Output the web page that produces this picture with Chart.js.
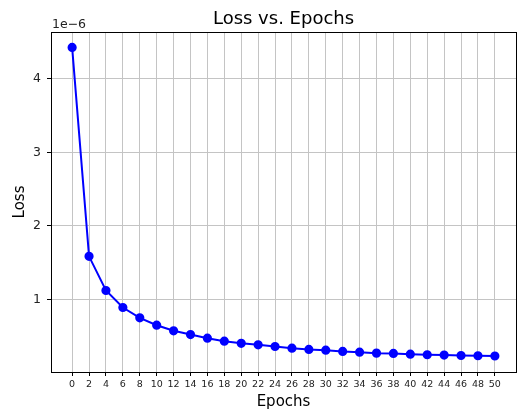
<!DOCTYPE html>
<html>
<head>
<meta charset="utf-8">
<script src="https://cdn.jsdelivr.net/npm/chart.js@4"></script>
<style>
  html, body { margin: 0; padding: 0; background: #fff; }
  #wrap { width: 518px; height: 413px; }
</style>
</head>
<body>
<div id="wrap"><canvas id="lossChart" width="518" height="413"></canvas></div>
<script>
// Epochs and recorded loss (loss in units of 1e-6)
const epochs = [0, 2, 4, 6, 8, 10, 12, 14, 16, 18, 20, 22, 24, 26, 28, 30, 32, 34, 36, 38, 40, 42, 44, 46, 48, 50];
const lossScaled = [4.43, 1.585, 1.12, 0.888, 0.748, 0.647, 0.571, 0.52, 0.47, 0.43, 0.40, 0.38, 0.357, 0.335, 0.317, 0.307, 0.29, 0.28, 0.267, 0.263, 0.253, 0.245, 0.24, 0.235, 0.231, 0.228];
const xTicks = [0, 2, 4, 6, 8, 10, 12, 14, 16, 18, 20, 22, 24, 26, 28, 30, 32, 34, 36, 38, 40, 42, 44, 46, 48, 50];
const yTicks = [1, 2, 3, 4];
const exponent = 1e-6;
const chartTitle = "Loss vs. Epochs";

const FONT = "'DejaVu Sans', sans-serif";

// box around the plot area, title over the plot, "1e-6" offset text
const framePlugin = {
  id: "frame",
  afterDraw(chart) {
    const { ctx, chartArea } = chart;
    ctx.save();
    ctx.strokeStyle = "#000";
    ctx.lineWidth = 1;
    ctx.strokeRect(
      Math.round(chartArea.left) + 0.5,
      Math.round(chartArea.top) + 0.5,
      Math.round(chartArea.right - chartArea.left),
      Math.round(chartArea.bottom - chartArea.top)
    );

    ctx.fillStyle = "#000";
    ctx.font = "18px " + FONT;
    ctx.textAlign = "center";
    ctx.textBaseline = "alphabetic";
    ctx.fillText(chartTitle, (chartArea.left + chartArea.right) / 2, 24);

    ctx.fillStyle = "#222";
    ctx.font = "12.5px " + FONT;
    ctx.textAlign = "left";
    ctx.fillText("1e\u22126", chartArea.left + 1, chartArea.top - 4);
    ctx.restore();
  },
};

const ctx = document.getElementById("lossChart").getContext("2d");
new Chart(ctx, {
  type: "line",
  data: {
    datasets: [
      {
        label: "Loss",
        data: epochs.map((e, i) => ({ x: e, y: lossScaled[i] * exponent })),
        borderColor: "#0000ff",
        backgroundColor: "#0000ff",
        borderWidth: 2,
        pointRadius: 3.6,
        pointHoverRadius: 3.6,
        tension: 0,
      },
    ],
  },
  options: {
    responsive: false,
    animation: false,
    layout: { autoPadding: false, padding: { top: 32, right: 2, bottom: 0, left: 0 } },
    plugins: {
      legend: { display: false },
      tooltip: { enabled: false },
      title: { display: false },
    },
    scales: {
      x: {
        type: "linear",
        min: -2.5,
        max: 52.5,
        afterBuildTicks: (scale) => {
          scale.ticks = xTicks.map((v) => ({ value: v }));
        },
        afterFit: (scale) => {
          scale.height = 41;
          scale.paddingLeft = 0;
          scale.paddingRight = 0;
        },
        ticks: {
          color: "#222",
          font: { family: FONT, size: 9.5 },
          padding: 3,
          maxRotation: 0,
          autoSkip: false,
        },
        grid: {
          color: "#c4c4c4",
          lineWidth: 1,
          tickColor: "#000",
          tickLength: 4,
        },
        border: { color: "#000", width: 1 },
        title: {
          display: true,
          text: "Epochs",
          color: "#000",
          font: { family: FONT, size: 15 },
          padding: { top: 0, bottom: 2 },
        },
      },
      y: {
        type: "linear",
        min: 0.01 * exponent,
        max: 4.64 * exponent,
        afterBuildTicks: (scale) => {
          scale.ticks = yTicks.map((v) => ({ value: v * exponent }));
        },
        afterFit: (scale) => {
          scale.width = 51;
          scale.paddingTop = 0;
          scale.paddingBottom = 0;
        },
        ticks: {
          color: "#222",
          font: { family: FONT, size: 12.5 },
          padding: 6,
          callback: (value) => String(Math.round(value / exponent)),
        },
        grid: {
          color: "#c4c4c4",
          lineWidth: 1,
          tickColor: "#000",
          tickLength: 4,
        },
        border: { color: "#000", width: 1 },
        title: {
          display: true,
          text: "Loss",
          color: "#000",
          font: { family: FONT, size: 15 },
          padding: { top: 11, bottom: 0 },
        },
      },
    },
  },
  plugins: [framePlugin],
});
</script>
</body>
</html>
